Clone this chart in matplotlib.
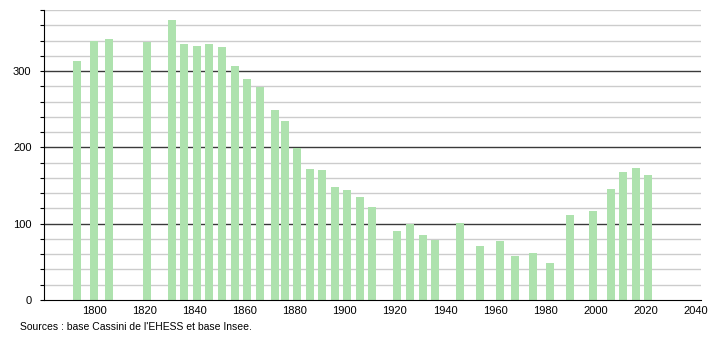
import matplotlib.pyplot as plt
from matplotlib.ticker import MultipleLocator

# census years and population
years = [1793, 1800, 1806, 1821, 1831, 1836, 1841, 1846, 1851, 1856,
         1861, 1866, 1872, 1876, 1881, 1886, 1891, 1896, 1901, 1906,
         1911, 1921, 1926, 1931, 1936, 1946, 1954, 1962, 1968, 1975,
         1982, 1990, 1999, 2006, 2011, 2016, 2021]
population = [313, 340, 342, 338, 367, 336, 333, 336, 332, 306,
              289, 279, 249, 235, 199, 172, 171, 148, 144, 135,
              122, 90, 100, 85, 79, 101, 71, 77, 58, 62,
              48, 112, 117, 146, 168, 173, 164]

x_ticks = [1800, 1820, 1840, 1860, 1880, 1900, 1920, 1940, 1960, 1980, 2000, 2020, 2040]
y_ticks = [0, 100, 200, 300]
source = "Sources : base Cassini de l'EHESS et base Insee."

plt.rcParams['font.family'] = ['Liberation Sans', 'DejaVu Sans']

fig = plt.figure(figsize=(7.1, 3.4), dpi=100)
ax = fig.add_axes([0.062, 0.1176, 0.925, 0.853])

# grid: light every 20, dark every 100
for v in range(20, 381, 20):
    if v % 100 == 0:
        ax.axhline(v, color='#3a3a3a', lw=1.0, zorder=1)
    else:
        ax.axhline(v, color='#cccccc', lw=1.0, zorder=1)

ax.bar(years, population, width=3.2, color='#aee2ae', zorder=2)

ax.set_xlim(1780, 2042)
ax.set_ylim(0, 380)
ax.set_xticks(x_ticks)
ax.set_yticks(y_ticks)
ax.yaxis.set_minor_locator(MultipleLocator(20))

ax.spines['top'].set_visible(False)
ax.spines['right'].set_visible(False)
ax.spines['left'].set_color('black')
ax.spines['bottom'].set_color('black')
ax.tick_params(axis='y', which='both', length=3, width=0.8, labelsize=8, pad=6)
ax.tick_params(axis='x', length=0, labelsize=8, pad=4)

fig.text(0.028, 0.038, source, fontsize=7.5, ha='left', va='center')

fig.savefig('out.png', dpi=100)
